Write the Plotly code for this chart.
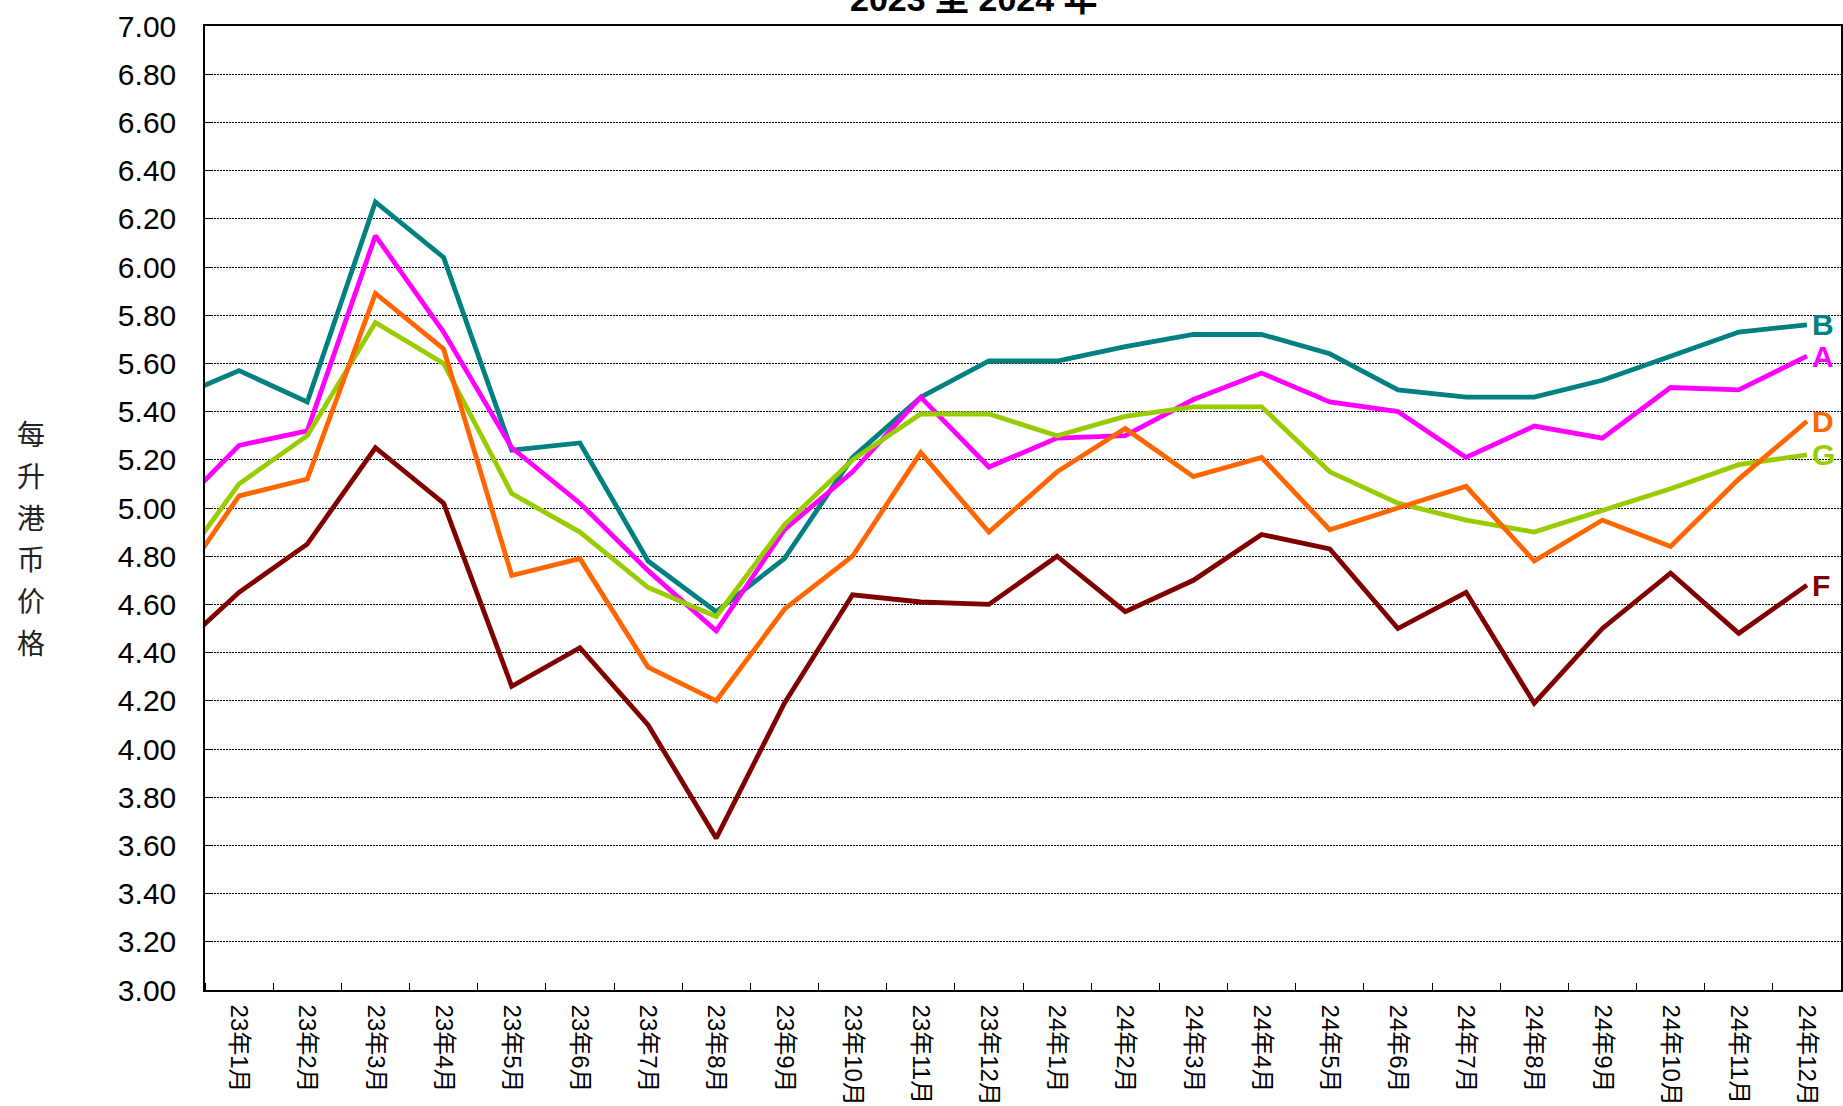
import plotly.graph_objects as go

months = ["22年12月",
          "23年1月", "23年2月", "23年3月", "23年4月", "23年5月", "23年6月",
          "23年7月", "23年8月", "23年9月", "23年10月", "23年11月", "23年12月",
          "24年1月", "24年2月", "24年3月", "24年4月", "24年5月", "24年6月",
          "24年7月", "24年8月", "24年9月", "24年10月", "24年11月", "24年12月"]
x_pos = list(range(-1, 24))

series_B = [5.45, 5.57, 5.44, 6.27, 6.04, 5.24, 5.27, 4.78, 4.57, 4.79, 5.21, 5.46, 5.61,
            5.61, 5.67, 5.72, 5.72, 5.64, 5.49, 5.46, 5.46, 5.53, 5.63, 5.73, 5.76]
series_A = [4.97, 5.26, 5.32, 6.13, 5.73, 5.25, 5.02, 4.74, 4.49, 4.91, 5.15, 5.46, 5.17,
            5.29, 5.30, 5.45, 5.56, 5.44, 5.40, 5.21, 5.34, 5.29, 5.50, 5.49, 5.63]
series_G = [4.71, 5.10, 5.30, 5.77, 5.60, 5.06, 4.90, 4.67, 4.55, 4.93, 5.20, 5.39, 5.39,
            5.30, 5.38, 5.42, 5.42, 5.15, 5.02, 4.95, 4.90, 4.99, 5.08, 5.18, 5.22]
series_D = [4.64, 5.05, 5.12, 5.89, 5.66, 4.72, 4.79, 4.34, 4.20, 4.58, 4.80, 5.23, 4.90,
            5.15, 5.33, 5.13, 5.21, 4.91, 5.00, 5.09, 4.78, 4.95, 4.84, 5.12, 5.36]
series_F = [4.39, 4.65, 4.85, 5.25, 5.02, 4.26, 4.42, 4.10, 3.63, 4.19, 4.64, 4.61, 4.60,
            4.80, 4.57, 4.70, 4.89, 4.83, 4.50, 4.65, 4.19, 4.50, 4.73, 4.48, 4.68]

names = ["B", "A", "G", "D", "F"]
values = [series_B, series_A, series_G, series_D, series_F]
colors = ["#008080", "#FF00FF", "#99CC00", "#FF6600", "#800000"]

y_ticks = [3.0 + 0.2 * i for i in range(21)]
title_text = "2023 至 2024 年"
y_title_chars = ["每", "升", "港", "币", "价", "格"]

FONT = "Liberation Sans, Arial, Noto Sans CJK SC, sans-serif"
W, H = 1843, 1106
L, R, T, B = 205, 0, 26, 116
PH = H - T - B
PW = W - L - R

fig = go.Figure()
for n, v, c in zip(names, values, colors):
    fig.add_trace(go.Scatter(x=x_pos, y=v, mode="lines", name=n,
                             line=dict(color=c, width=4.8), showlegend=False,
                             hoverinfo="skip"))
    fig.add_annotation(x=x_pos[-1], y=v[-1], xref="x", yref="y", text="<b>%s</b>" % n,
                       showarrow=False, xanchor="left", yanchor="middle", xshift=3,
                       font=dict(family=FONT, size=30, color=c))

fig.add_annotation(x=(975 - L) / PW, xref="paper", y=1 + (T + 1) / PH, yref="paper",
                   text="<b>%s</b>" % title_text,
                   showarrow=False, xanchor="center", yanchor="middle",
                   font=dict(family=FONT, size=34, color="black"))

for i, ch in enumerate(y_title_chars):
    py = 433 + 41.8 * i
    fig.add_annotation(x=(31 - L) / PW, xref="paper", y=1 - (py - T) / PH, yref="paper",
                       text=ch, showarrow=False, xanchor="center", yanchor="middle",
                       font=dict(family="Noto Sans CJK SC, sans-serif", size=28, color="#222"))

fig.update_layout(
    width=W, height=H,
    margin=dict(l=L, r=R, t=T, b=B),
    paper_bgcolor="white", plot_bgcolor="white",
    font=dict(family=FONT, color="black"),
    xaxis=dict(range=[-0.5, 23.5], tickmode="array", tickvals=x_pos[1:], ticktext=months[1:],
               tickangle=90, ticks="", showgrid=False, zeroline=False,
               ticklabelstandoff=8,
               showline=True, linecolor="black", linewidth=1.5, mirror=True,
               tickfont=dict(family=FONT, size=24, color="black"),
               minor=dict(tickmode="linear", tick0=-0.5, dtick=1, ticks="inside",
                          ticklen=7, tickcolor="black", tickwidth=1, showgrid=False)),
    yaxis=dict(range=[3.0, 7.0], tickmode="array", tickvals=y_ticks,
               ticktext=["%.2f" % t for t in y_ticks],
               ticks="inside", ticklen=8, tickcolor="black", tickwidth=1,
               ticklabelstandoff=21,
               showgrid=True, gridcolor="#000000", gridwidth=1, griddash="2px,1px",
               zeroline=False, showline=True, linecolor="black", linewidth=1.5, mirror=True,
               tickfont=dict(family=FONT, size=30, color="black")),
)

fig.write_html("out.html", config={"displayModeBar": False},
               post_script="document.body.style.margin='0';")
